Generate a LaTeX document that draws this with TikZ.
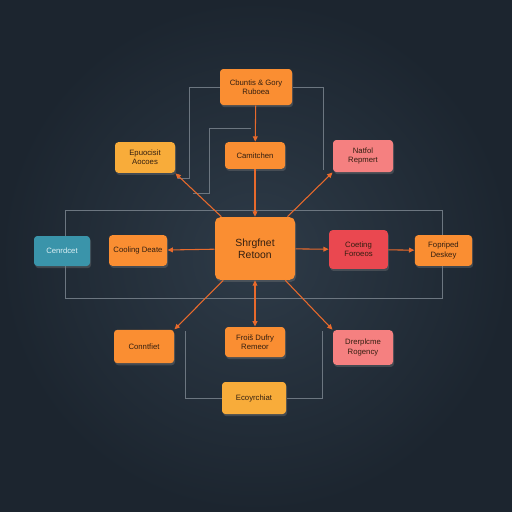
\documentclass[tikz,border=0pt]{standalone}
\usepackage{fontspec}
\setmainfont{Liberation Sans}
\usetikzlibrary{arrows.meta,shadows}

\definecolor{bgdark}{RGB}{28,37,47}
\definecolor{bglight}{RGB}{46,59,72}
\definecolor{boxorange}{RGB}{250,142,50}
\definecolor{boxyellow}{RGB}{248,172,58}
\definecolor{boxpink}{RGB}{245,128,128}
\definecolor{boxred}{RGB}{234,72,80}
\definecolor{boxteal}{RGB}{58,148,170}
\definecolor{wiregray}{RGB}{108,118,128}
\definecolor{arroworange}{RGB}{232,106,44}
\definecolor{inkbrown}{RGB}{50,30,16}

\tikzset{every picture/.style={line width=0.75pt}}
\tikzset{
  box/.style={rounded corners=2.5pt, align=center, text=inkbrown,
    font=\fontsize{5.8}{6.8}\selectfont, inner sep=1pt,
    drop shadow={opacity=0.35, shadow xshift=0.8pt, shadow yshift=-1.6pt}},
  wire/.style={draw=wiregray, line width=0.6pt},
  flow/.style={draw=arroworange, line width=0.8pt, -{Triangle[length=4pt,width=3.6pt]}},
}

\begin{document}
\begin{tikzpicture}[x=0.75pt,y=0.75pt,yscale=-1,xscale=1]
%Background
\shade[inner color=bglight, outer color=bgdark] (0,0) rectangle (512,512);
\useasboundingbox (0,0) rectangle (512,512);

%Grey frame behind the middle row
\draw [wire] (65,210) -- (442,210) -- (442,298) -- (65,298) -- cycle ;

%Boxes
\node [box, fill=boxorange, minimum width=54pt, minimum height=27pt] (sources) at (256,87) {Cbuntis \& Gory\\Ruboea};
\node [box, fill=boxyellow, minimum width=45pt, minimum height=23pt] (expo) at (145,157.5) {Epuocisit\\Aocoes};
\node [box, fill=boxorange, minimum width=45pt, minimum height=20pt] (camit) at (255,155.5) {Camitchen};
\node [box, fill=boxpink, minimum width=45pt, minimum height=24pt] (natfol) at (363,156) {Natfol\\Repmert};
\node [box, fill=boxteal, text={rgb,255:red,220;green,240;blue,245}, minimum width=42pt, minimum height=22.5pt] (cenr) at (62,251) {Cenrdcet};
\node [box, fill=boxorange, minimum width=43.5pt, minimum height=23pt] (cooling) at (138,250.5) {Cooling Deate};
\node [box, fill=boxorange, rounded corners=4pt, font=\fontsize{7.8}{9.2}\selectfont, minimum width=60pt, minimum height=47pt] (hub) at (255,248.5) {Shrgfnet\\Retoon};
\node [box, fill=boxred, minimum width=44pt, minimum height=29pt] (coeting) at (358.5,249.5) {Coeting\\Foroeos};
\node [box, fill=boxorange, minimum width=43pt, minimum height=23pt] (fopri) at (443.5,250.5) {Fopriped\\Deskey};
\node [box, fill=boxorange, minimum width=45pt, minimum height=25pt] (connt) at (144,346.5) {Conntfiet};
\node [box, fill=boxorange, minimum width=45pt, minimum height=22.5pt] (froi) at (255,342) {Froiš Dufry\\Remeor};
\node [box, fill=boxpink, minimum width=45pt, minimum height=26pt] (drerp) at (363,347.5) {Drerplcme\\Rogency};
\node [box, fill=boxyellow, minimum width=48pt, minimum height=24pt] (ecoy) at (254,398) {Ecoyrchiat};

%Grey wires
\draw [wire] (sources.west) -- (189,87) -- (189,178) -- (178,178) ;
\draw [wire] (251,128) -- (209,128) -- (209,193) -- (193,193) ;
\draw [wire] (sources.east) -- (323,87) -- (323,170) ;
\draw [wire] (185,331) -- (185,398) -- (ecoy.west) ;
\draw [wire] (ecoy.east) -- (322,398) -- (322,331) ;

%Orange arrows
\draw [flow] (sources) -- (camit) ;
\draw [flow] (camit) -- (hub) ;
\draw [flow] (hub) -- (expo.south east) ;
\draw [flow] (hub) -- (natfol.south west) ;
\draw [flow] (hub) -- (cooling) ;
\draw [flow] (hub) -- (coeting) ;
\draw [flow] (coeting) -- (fopri) ;
\draw [flow] (hub) -- (connt.north east) ;
\draw [flow, {Triangle[length=4pt,width=3.6pt]}-{Triangle[length=4pt,width=3.6pt]}] (hub) -- (froi) ;
\draw [flow] (hub) -- (drerp.north west) ;

\end{tikzpicture}
\end{document}
